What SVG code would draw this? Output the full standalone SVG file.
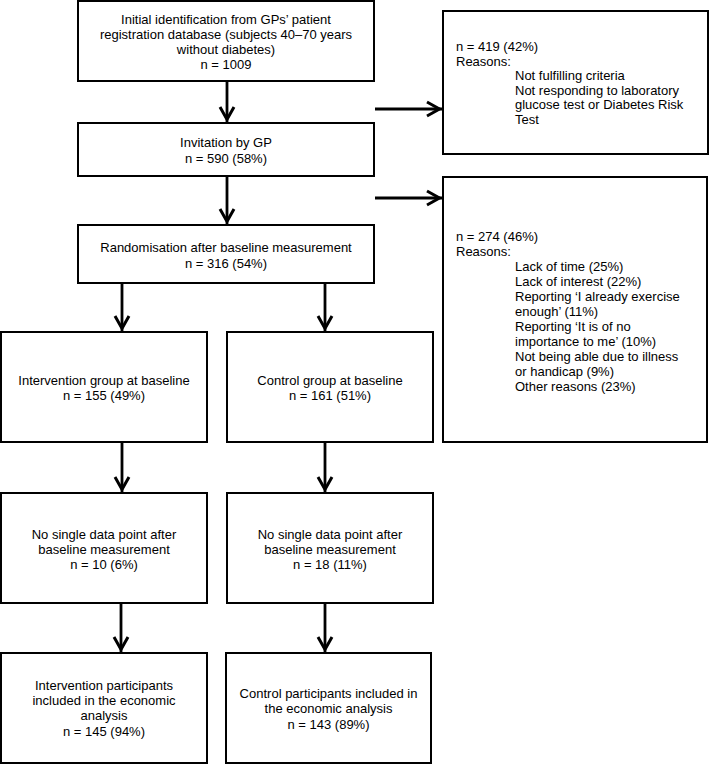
<svg xmlns="http://www.w3.org/2000/svg" width="709" height="764" viewBox="0 0 709 764">
<defs>
<marker id="arr" markerUnits="userSpaceOnUse" markerWidth="20" markerHeight="20" viewBox="-18 -10 20 20" refX="0" refY="0" orient="auto">
<path d="M-15,-7 L-2.5,0 L-15,7" fill="none" stroke="#000" stroke-width="3"/>
</marker>
</defs>
<style>
rect{fill:#fff;stroke:#000;stroke-width:2}
text{font-family:"Liberation Sans",Arial,sans-serif;font-size:13px;fill:#000}
.c{text-anchor:middle}
.conn line{stroke:#000;stroke-width:2.8;marker-end:url(#arr)}
</style>
<rect x="0" y="0" width="709" height="764" style="stroke:none"/>
<g id="initial">
<rect x="78" y="1" width="296" height="80"/>
<text class="c" x="226" y="23.5">Initial identification from GPs’ patient</text>
<text class="c" x="226" y="38.5">registration database (subjects 40–70 years</text>
<text class="c" x="226" y="53.5">without diabetes)</text>
<text class="c" x="226" y="68.5">n = 1009</text>
</g>
<g id="invitation">
<rect x="78" y="123" width="296" height="53"/>
<text class="c" x="226" y="147">Invitation by GP</text>
<text class="c" x="226" y="162.5">n = 590 (58%)</text>
</g>
<g id="randomisation">
<rect x="78" y="225" width="296" height="58"/>
<text class="c" x="226" y="252">Randomisation after baseline measurement</text>
<text class="c" x="226" y="267.5">n = 316 (54%)</text>
</g>
<g id="excluded1">
<rect x="443" y="11" width="265" height="143"/>
<text x="456" y="51">n = 419 (42%)</text>
<text x="456" y="65.5">Reasons:</text>
<text x="515" y="80">Not fulfilling criteria</text>
<text x="515" y="94.5">Not responding to laboratory</text>
<text x="515" y="109">glucose test or Diabetes Risk</text>
<text x="515" y="123.5">Test</text>
</g>
<g id="excluded2">
<rect x="443" y="177" width="264" height="265"/>
<text x="456" y="240.5">n = 274 (46%)</text>
<text x="456" y="255.5">Reasons:</text>
<text x="515" y="270.5">Lack of time (25%)</text>
<text x="515" y="285.5">Lack of interest (22%)</text>
<text x="515" y="300.5">Reporting ‘I already exercise</text>
<text x="515" y="315.5">enough’ (11%)</text>
<text x="515" y="330.5">Reporting ‘It is of no</text>
<text x="515" y="345.5">importance to me’ (10%)</text>
<text x="515" y="360.5">Not being able due to illness</text>
<text x="515" y="375.5">or handicap (9%)</text>
<text x="515" y="390.5">Other reasons (23%)</text>
</g>
<g id="intervention">
<rect x="1" y="332" width="206" height="110"/>
<text class="c" x="104" y="384.5">Intervention group at baseline</text>
<text class="c" x="104" y="400">n = 155 (49%)</text>
</g>
<g id="control">
<rect x="227" y="332" width="206" height="110"/>
<text class="c" x="330" y="384.5">Control group at baseline</text>
<text class="c" x="330" y="400">n = 161 (51%)</text>
</g>
<g id="nodata-intervention">
<rect x="1" y="493" width="206" height="110"/>
<text class="c" x="104" y="538.5">No single data point after</text>
<text class="c" x="104" y="553.5">baseline measurement</text>
<text class="c" x="104" y="568.5">n = 10 (6%)</text>
</g>
<g id="nodata-control">
<rect x="227" y="493" width="206" height="110"/>
<text class="c" x="330" y="538.5">No single data point after</text>
<text class="c" x="330" y="553.5">baseline measurement</text>
<text class="c" x="330" y="568.5">n = 18 (11%)</text>
</g>
<g id="included-intervention">
<rect x="1" y="653" width="206" height="110"/>
<text class="c" x="104" y="690">Intervention participants</text>
<text class="c" x="104" y="705">included in the economic</text>
<text class="c" x="104" y="720">analysis</text>
<text class="c" x="104" y="735.5">n = 145 (94%)</text>
</g>
<g id="included-control">
<rect x="226" y="653" width="205" height="110"/>
<text class="c" x="328.5" y="698">Control participants included in</text>
<text class="c" x="328.5" y="713">the economic analysis</text>
<text class="c" x="328.5" y="728.5">n = 143 (89%)</text>
</g>
<g class="conn" id="connectors">
<line x1="227" y1="82" x2="227" y2="122"/>
<line x1="227" y1="177" x2="227" y2="224"/>
<line x1="375" y1="109" x2="442" y2="109"/>
<line x1="375" y1="198" x2="442" y2="198"/>
<line x1="122" y1="284" x2="122" y2="331"/>
<line x1="325" y1="284" x2="325" y2="331"/>
<line x1="122" y1="443" x2="122" y2="492"/>
<line x1="325" y1="443" x2="325" y2="492"/>
<line x1="121" y1="604" x2="121" y2="652"/>
<line x1="325" y1="604" x2="325" y2="652"/>
</g>
</svg>
